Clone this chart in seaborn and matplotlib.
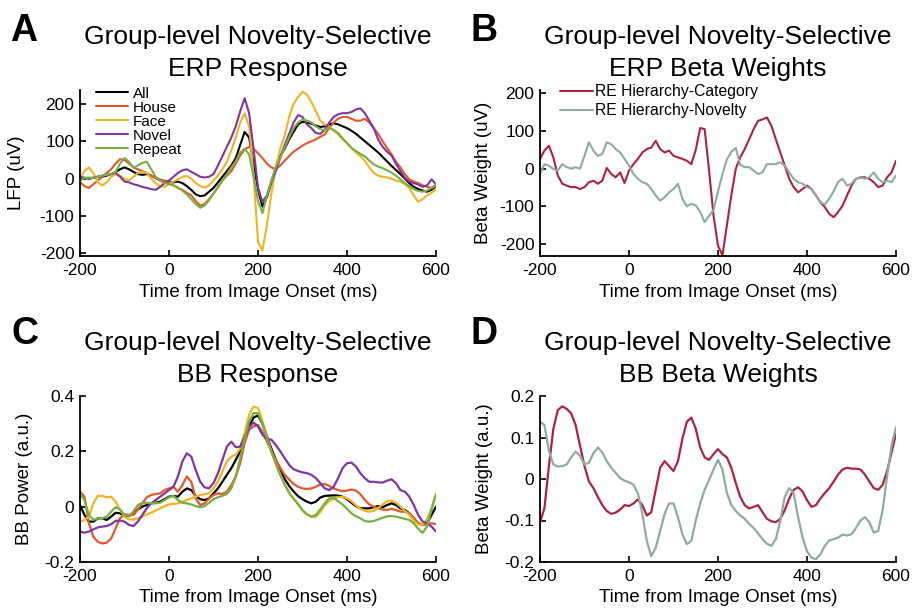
import numpy as np
import pandas as pd
import matplotlib
matplotlib.use("Agg")
import matplotlib.pyplot as plt
import seaborn as sns

# ---------------------------------------------------------------- data
# time base (ms from image onset), 10 ms resolution
time_ms = np.arange(-200, 601, 10)

# ERP responses (uV)
erp_all = [0, 2, 0, 2, 5, 5, 8, 12, 18, 25,
           30, 25, 18, 12, 10, 12, 8, 2, -5, -8,
           -10, -10, -8, -12, -20, -30, -42, -47, -45, -35,
           -25, -10, 5, 20, 35, 55, 90, 125, 110, 40,
           -28, -75, -50, -10, 30, 60, 80, 105, 125, 145,
           152, 150, 147, 142, 138, 140, 145, 148, 145, 140,
           135, 128, 120, 110, 100, 90, 80, 70, 58, 46,
           34, 23, 12, 0, -12, -22, -28, -32, -35, -30,
           -20]
erp_house = [-10, -20, -25, -15, -5, 5, 15, 25, 40, 52,
             50, 40, 30, 25, 20, 15, 8, 2, -2, -5,
             -10, -18, -25, -30, -38, -45, -60, -72, -68, -55,
             -40, -22, -5, 8, 20, 40, 62, 78, 85, 80,
             68, 55, 40, 30, 25, 35, 48, 60, 72, 80,
             88, 95, 100, 105, 112, 118, 135, 150, 160, 165,
             165, 160, 155, 155, 160, 150, 135, 120, 100, 82,
             65, 45, 30, 12, -2, -8, -12, -18, -22, -25,
             -20]
erp_face = [0, 20, 30, 15, -10, -18, -10, 5, 12, 8,
            0, -5, 5, 15, 18, 15, 0, -12, -20, -22,
            -15, -8, -2, 5, 7, 0, -12, -20, -24, -18,
            -5, 8, 25, 45, 75, 110, 150, 175, 140, 10,
            -170, -192, -125, -40, 30, 80, 115, 165, 200, 218,
            232, 225, 205, 180, 155, 145, 138, 128, 118, 105,
            95, 82, 70, 60, 48, 30, 15, 8, 5, 3,
            0, -5, -8, -15, -25, -45, -62, -55, -45, -38,
            -28]
erp_novel = [5, 2, 0, 2, 5, 8, 10, 12, 15, 5,
             -8, -10, -15, -18, -22, -25, -28, -30, -22, -12,
             -5, 5, 15, 22, 25, 18, 12, 5, 3, 5,
             12, 35, 60, 85, 110, 140, 180, 215, 175, 80,
             -25, -62, -45, -10, 20, 55, 90, 120, 150, 170,
             165, 145, 135, 122, 120, 130, 150, 165, 172, 175,
             175, 178, 185, 188, 175, 155, 135, 105, 85, 72,
             62, 40, 20, 2, -8, -12, -16, -22, -18, -2,
             -15]
erp_repeat = [-5, 2, 3, 2, 5, 8, 10, 12, 18, 40,
              55, 45, 30, 35, 42, 45, 25, 5, -5, -12,
              -15, -18, -24, -32, -42, -55, -68, -78, -72, -58,
              -40, -24, -5, 12, 30, 47, 70, 80, 65, 5,
              -60, -92, -45, -5, 30, 55, 83, 110, 135, 150,
              158, 155, 150, 140, 132, 130, 136, 130, 122, 108,
              95, 82, 74, 66, 60, 48, 38, 32, 28, 22,
              16, 8, -2, -12, -20, -28, -33, -35, -32, -25,
              -15]

# ERP beta weights (uV)
erp_beta_category = [26, 48, 61, 30, -18, -40, -45, -49, -49, -54,
                     -49, -36, -32, -40, -32, 2, -14, -23, -10, -38,
                     -5, 12, 26, 43, 52, 56, 74, 52, 43, 48,
                     34, 30, 26, 21, 12, 50, 108, 105, -5, -125,
                     -205, -230, -150, -70, 0, 30, 52, 78, 105, 127,
                     131, 136, 114, 78, 43, 8, -27, -49, -63, -54,
                     -45, -54, -71, -89, -102, -120, -129, -115, -98, -71,
                     -45, -27, -23, -23, -27, -36, -49, -45, -23, -10,
                     21]
erp_beta_novelty = [-14, 12, 8, -1, -5, 12, 4, 0, 4, 0,
                    34, 70, 48, 34, 39, 70, 65, 52, 43, 26,
                    8, -14, -27, -36, -40, -54, -71, -85, -76, -63,
                    -54, -40, -80, -100, -93, -98, -115, -142, -125, -110,
                    -60, -15, 25, 45, 55, 10, 4, 4, -5, -14,
                    -10, 12, 12, 12, 17, 8, -10, -27, -36, -40,
                    -49, -54, -71, -89, -95, -80, -60, -35, -27, -45,
                    -40, -27, -23, -27, -23, -10, -27, -36, -32, -36,
                    -18]

# broadband power (a.u.)
bb_all = [0.006, -0.03, -0.054, -0.054, -0.042, -0.042, -0.048, -0.036, -0.022, -0.024,
          -0.034, -0.034, -0.024, -0.01, 0.0, 0.006, 0.012, 0.014, 0.018, 0.027,
          0.036, 0.039, 0.036, 0.054, 0.066, 0.06, 0.039, 0.027, 0.024, 0.03,
          0.048, 0.066, 0.09, 0.115, 0.139, 0.169, 0.2, 0.24, 0.29, 0.322,
          0.33, 0.30, 0.255, 0.21, 0.17, 0.135, 0.1, 0.075, 0.055, 0.038,
          0.027, 0.018, 0.012, 0.018, 0.033, 0.039, 0.04, 0.041, 0.04, 0.036,
          0.027, 0.014, 0.002, -0.006, -0.006, -0.006, -0.002, 0.002, -0.002, 0.006,
          0.012, 0.006, -0.006, -0.012, -0.024, -0.042, -0.06, -0.066, -0.06, -0.03,
          0.0]
bb_house = [0.054, 0.036, -0.06, -0.109, -0.127, -0.133, -0.13, -0.115, -0.078, -0.042,
            -0.027, -0.03, -0.03, -0.01, 0.012, 0.034, 0.042, 0.046, 0.048, 0.06,
            0.066, 0.072, 0.054, 0.078, 0.109, 0.09, 0.03, 0.006, 0.012, 0.03,
            0.042, 0.048, 0.046, 0.054, 0.078, 0.109, 0.157, 0.23, 0.278, 0.29,
            0.295, 0.27, 0.235, 0.2, 0.17, 0.14, 0.115, 0.098, 0.082, 0.072,
            0.066, 0.064, 0.066, 0.072, 0.08, 0.082, 0.075, 0.066, 0.06, 0.056,
            0.058, 0.062, 0.058, 0.045, 0.025, 0.008, 0.0, -0.006, -0.01, -0.012,
            -0.008, -0.012, -0.018, -0.018, -0.024, -0.042, -0.06, -0.066, -0.063, -0.06,
            -0.063]
bb_face = [-0.054, -0.048, -0.036, 0.012, 0.039, 0.039, 0.034, 0.036, 0.018, -0.012,
           -0.036, -0.046, -0.046, -0.042, -0.036, -0.028, -0.022, -0.014, -0.006, 0.002,
           0.008, 0.01, 0.012, 0.018, 0.024, 0.03, 0.036, 0.042, 0.045, 0.048,
           0.066, 0.09, 0.127, 0.163, 0.181, 0.187, 0.211, 0.266, 0.332, 0.362,
           0.356, 0.31, 0.25, 0.2, 0.155, 0.115, 0.08, 0.05, 0.028, 0.008,
           -0.015, -0.028, -0.036, -0.037, -0.02, 0.005, 0.02, 0.03, 0.035, 0.035,
           0.03, 0.02, 0.005, -0.008, -0.015, -0.018, -0.015, -0.005, 0.008, 0.02,
           0.022, 0.015, 0.0, -0.015, -0.03, -0.05, -0.065, -0.065, -0.045, -0.005,
           0.045]
bb_novel = [-0.09, -0.094, -0.09, -0.082, -0.075, -0.072, -0.07, -0.063, -0.052, -0.05,
            -0.054, -0.066, -0.07, -0.054, -0.03, -0.006, 0.012, 0.024, 0.036, 0.048,
            0.06, 0.072, 0.109, 0.163, 0.193, 0.181, 0.133, 0.09, 0.07, 0.066,
            0.085, 0.121, 0.169, 0.217, 0.235, 0.215, 0.217, 0.254, 0.287, 0.304,
            0.29, 0.26, 0.245, 0.242, 0.223, 0.2, 0.175, 0.151, 0.135, 0.129,
            0.124, 0.121, 0.115, 0.103, 0.085, 0.066, 0.06, 0.072, 0.103, 0.139,
            0.157, 0.159, 0.145, 0.121, 0.103, 0.09, 0.09, 0.088, 0.087, 0.094,
            0.099, 0.085, 0.06, 0.054, 0.036, 0.006, -0.03, -0.054, -0.06, -0.072,
            -0.09]
bb_repeat = [0.046, 0.024, -0.03, -0.048, -0.042, -0.042, -0.036, -0.018, -0.002, -0.01,
             -0.03, -0.034, -0.018, 0.006, 0.014, 0.014, 0.012, 0.012, 0.014, 0.024,
             0.034, 0.039, 0.024, 0.014, 0.012, 0.008, 0.002, -0.002, 0.002, 0.014,
             0.027, 0.034, 0.039, 0.046, 0.066, 0.109, 0.175, 0.248, 0.308, 0.338,
             0.338, 0.30, 0.25, 0.2, 0.155, 0.115, 0.08, 0.05, 0.028, 0.01,
             -0.012, -0.028, -0.036, -0.03, -0.01, 0.012, 0.03, 0.032, 0.02, 0.008,
             -0.008, -0.024, -0.035, -0.042, -0.052, -0.054, -0.052, -0.046, -0.04, -0.035,
             -0.034, -0.036, -0.04, -0.044, -0.048, -0.06, -0.08, -0.095, -0.07, -0.01,
             0.045]

# broadband beta weights (a.u.)
bb_beta_category = [-0.105, -0.07, 0.031, 0.121, 0.166, 0.175, 0.169, 0.158, 0.13, 0.08,
                    0.031, -0.006, -0.022, -0.043, -0.063, -0.077, -0.084, -0.081, -0.074, -0.063,
                    -0.065, -0.059, -0.049, -0.063, -0.088, -0.08, -0.026, 0.027, 0.043, 0.031,
                    0.019, 0.043, 0.097, 0.138, 0.148, 0.121, 0.076, 0.052, 0.046, 0.06,
                    0.072, 0.06, 0.052, 0.027, -0.01, -0.043, -0.063, -0.071, -0.067, -0.063,
                    -0.08, -0.096, -0.102, -0.104, -0.096, -0.075, -0.047, -0.026, -0.02, -0.03,
                    -0.051, -0.067, -0.063, -0.047, -0.034, -0.022, -0.006, 0.011, 0.023, 0.027,
                    0.025, 0.025, 0.023, 0.011, -0.006, -0.022, -0.026, -0.014, 0.019, 0.064,
                    0.109]
bb_beta_novelty = [0.138, 0.13, 0.068, 0.035, 0.03, 0.031, 0.035, 0.052, 0.066, 0.056,
                   0.035, 0.039, 0.062, 0.076, 0.064, 0.043, 0.027, 0.015, 0.002, -0.004,
                   -0.008, -0.014, -0.034, -0.084, -0.149, -0.186, -0.166, -0.125, -0.084, -0.059,
                   -0.059, -0.092, -0.133, -0.157, -0.149, -0.1, -0.059, -0.026, -0.002, 0.023,
                   0.046, 0.023, -0.034, -0.063, -0.077, -0.088, -0.096, -0.108, -0.118, -0.131,
                   -0.145, -0.156, -0.161, -0.145, -0.1, -0.043, -0.022, -0.034, -0.092, -0.141,
                   -0.174, -0.19, -0.193, -0.182, -0.161, -0.148, -0.145, -0.141, -0.134, -0.136,
                   -0.133, -0.118, -0.1, -0.092, -0.104, -0.129, -0.125, -0.075, 0.007, 0.08,
                   0.125]

conditions = ["All", "House", "Face", "Novel", "Repeat"]
condition_colors = ["#000000", "#E2582B", "#F0B323", "#8135A0", "#76B041"]
regressors = ["RE Hierarchy-Category", "RE Hierarchy-Novelty"]
regressor_colors = ["#B0213F", "#8EAB9E"]

x_ticks = [-200, 0, 200, 400, 600]
x_tick_labels = ["-200", "0", "200", "400", "600"]
erp_ticks = [-200, -100, 0, 100, 200]
erp_tick_labels = ["-200", "-100", "0", "100", "200"]
bb_ticks = [-0.2, 0, 0.2, 0.4]
bb_tick_labels = ["-0.2", "0", "0.2", "0.4"]
bb_beta_ticks = [-0.2, -0.1, 0, 0.1, 0.2]
bb_beta_tick_labels = ["-0.2", "-0.1", "0", "0.1", "0.2"]

x_label = "Time from Image Onset (ms)"
title_top = "Group-level Novelty-Selective"

# --------------------------------------------------------------- tables
def long_table(series, names):
    frames = [pd.DataFrame({"time": time_ms, "value": vals, "trace": name})
              for vals, name in zip(series, names)]
    return pd.concat(frames, ignore_index=True)

erp_df = long_table([erp_all, erp_house, erp_face, erp_novel, erp_repeat], conditions)
erp_beta_df = long_table([erp_beta_category, erp_beta_novelty], regressors)
bb_df = long_table([bb_all, bb_house, bb_face, bb_novel, bb_repeat], conditions)
bb_beta_df = long_table([bb_beta_category, bb_beta_novelty], regressors)

# --------------------------------------------------------------- figure
sns.set_theme(style="ticks")
plt.rcParams["font.family"] = ["Liberation Sans", "DejaVu Sans"]
plt.rcParams["axes.unicode_minus"] = False

W, H = 913, 611
fig = plt.figure(figsize=(W / 100, H / 100), dpi=100)


def axes_px(left, top, right, bottom):
    return fig.add_axes([left / W, 1 - bottom / H, (right - left) / W, (bottom - top) / H])


def style(ax, ylim, yticks, ylabels, ylabel, title, label_x):
    ax.set_xlim(-200, 600)
    ax.set_ylim(*ylim)
    ax.set_xticks(x_ticks, x_tick_labels)
    ax.set_yticks(yticks, ylabels)
    sns.despine(ax=ax)
    for side in ("left", "bottom"):
        ax.spines[side].set_linewidth(1.3)
        ax.spines[side].set_color("black")
    ax.tick_params(direction="in", length=4, width=1.2, labelsize=12.5,
                   colors="black")
    ax.tick_params(axis="x", pad=5)
    ax.tick_params(axis="y", pad=4)
    ax.set_xlabel(x_label, fontsize=13.5, labelpad=4, color="black")
    ax.set_ylabel(ylabel, fontsize=13.5, color="black")
    ax.yaxis.set_label_coords(label_x, 0.5)
    ax.set_title(title, fontsize=19, pad=10, linespacing=1.42, color="black")
    ax.grid(False)


def draw(ax, df, names, colors, lw):
    sns.lineplot(data=df, x="time", y="value", hue="trace", hue_order=names,
                 palette=colors, estimator=None, errorbar=None, linewidth=lw,
                 ax=ax, legend=True)


# A: ERP responses
axA = axes_px(80, 90, 436, 256)
draw(axA, erp_df, conditions, condition_colors, 1.5)
style(axA, (-207, 237), erp_ticks, erp_tick_labels, "LFP (uV)",
      title_top + "\nERP Response", -0.155)
h, l = axA.get_legend_handles_labels()
axA.legend(h, l, loc="upper left", bbox_to_anchor=(0.045, 1.02), frameon=False,
           fontsize=11, handlelength=2.1, handletextpad=0.3, labelspacing=0.0,
           borderpad=0, borderaxespad=0, labelcolor="black")

# B: ERP beta weights
axB = axes_px(540, 90, 896, 256)
draw(axB, erp_beta_df, regressors, regressor_colors, 1.5)
style(axB, (-232, 209), erp_ticks, erp_tick_labels, "Beta Weight (uV)",
      title_top + "\nERP Beta Weights", -0.135)
h, l = axB.get_legend_handles_labels()
axB.legend(h, l, loc="upper left", bbox_to_anchor=(0.055, 1.035), frameon=False,
           fontsize=11.3, handlelength=2.1, handletextpad=0.15, labelspacing=0.26,
           borderpad=0, borderaxespad=0, labelcolor="black")

# C: broadband responses
axC = axes_px(80, 396, 436, 562)
draw(axC, bb_df, conditions, condition_colors, 1.6)
style(axC, (-0.2, 0.4), bb_ticks, bb_tick_labels, "BB Power (a.u.)",
      title_top + "\nBB Response", -0.132)
axC.get_legend().remove()

# D: broadband beta weights
axD = axes_px(540, 396, 896, 562)
draw(axD, bb_beta_df, regressors, regressor_colors, 1.6)
style(axD, (-0.2, 0.2), bb_beta_ticks, bb_beta_tick_labels, "Beta Weight (a.u.)",
      title_top + "\nBB Beta Weights", -0.132)
axD.get_legend().remove()

# panel letters
for letter, (x, y) in zip("ABCD", [(10, 13), (470, 13), (11, 316), (470, 316)]):
    fig.text(x / W, 1 - y / H, letter, fontsize=27, fontweight="bold",
             ha="left", va="top", color="black")

fig.savefig("out.png", dpi=100)
